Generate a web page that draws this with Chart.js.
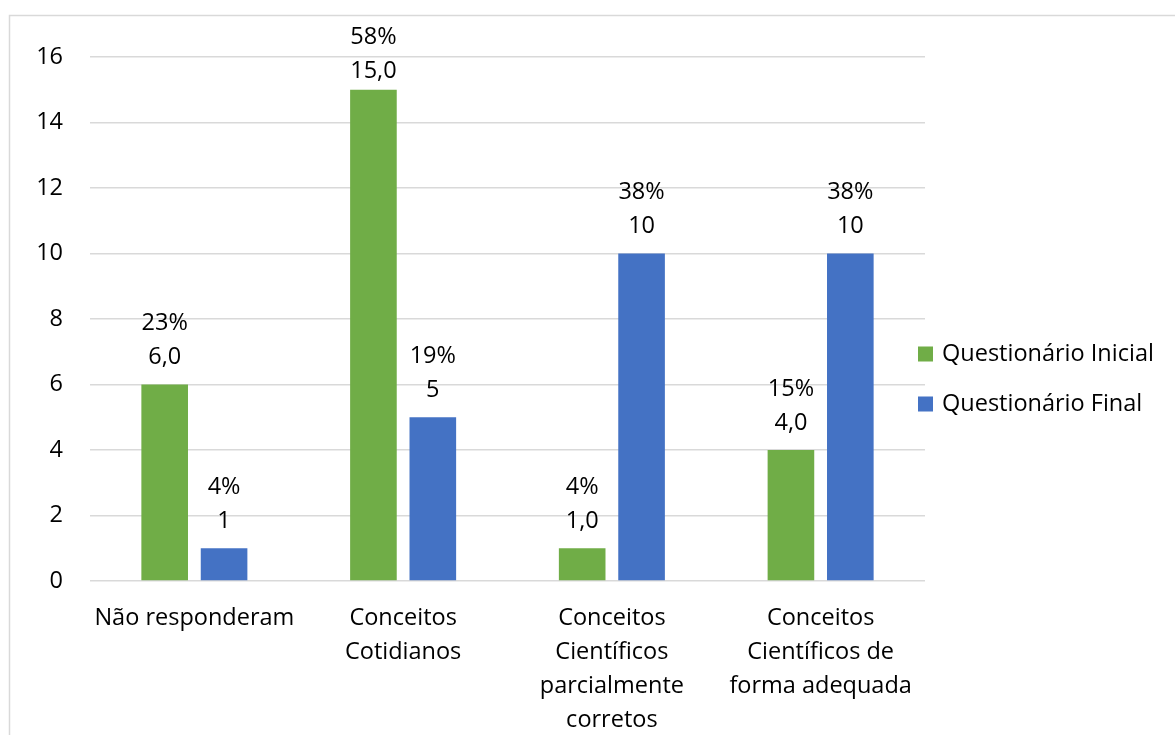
<!DOCTYPE html>
<html>
<head>
<meta charset="utf-8">
<script src="https://cdn.jsdelivr.net/npm/chart.js@4.4.0/dist/chart.umd.min.js"></script>
<style>
    html, body { margin: 0; padding: 0; background: #fff; }
    #wrap { position: relative; width: 1175px; height: 735px; }
</style>
</head>
<body>
<div id="wrap"><canvas id="grafico" width="1175" height="735"></canvas></div>
<script>
// categorias do eixo x (quebradas em linhas)
const categorias = [
    ['Não responderam'],
    ['Conceitos', 'Cotidianos'],
    ['Conceitos', 'Científicos', 'parcialmente', 'corretos'],
    ['Conceitos', 'Científicos de', 'forma adequada']
];
const inicial = [6, 15, 1, 4];
const final = [1, 5, 10, 10];
const inicialPct = ['23%', '58%', '4%', '15%'];
const finalPct = ['4%', '19%', '38%', '38%'];
const ticksY = [0, 2, 4, 6, 8, 10, 12, 14, 16];

const fonte = '"Open Sans", "Noto Sans", sans-serif';
const tam = 23.5;
const corVerde = '#70AD47';
const corAzul = '#4472C4';

// rotulos de cada barra: percentual em cima, valor embaixo
const rotulos = {
    id: 'rotulos',
    afterDatasetsDraw(chart) {
        const ctx = chart.ctx;
        ctx.save();
        ctx.font = tam + 'px ' + fonte;
        ctx.fillStyle = '#000';
        ctx.textAlign = 'center';
        ctx.textBaseline = 'middle';
        chart.data.datasets.forEach((ds, i) => {
            const meta = chart.getDatasetMeta(i);
            meta.data.forEach((bar, j) => {
                let yPct = bar.y - 61;
                if (yPct < 37) yPct = 37; // mantem dentro da area
                const valor = i === 0 ? ds.data[j].toFixed(1).replace('.', ',') : String(ds.data[j]);
                ctx.fillText(ds.pct[j], bar.x, yPct);
                ctx.fillText(valor, bar.x, yPct + 34);
            });
        });
        ctx.restore();
    }
};

// moldura e legenda à direita
const moldura = {
    id: 'moldura',
    beforeDraw(chart) {
        const ctx = chart.ctx;
        ctx.save();
        ctx.strokeStyle = '#d9d9d9';
        ctx.lineWidth = 1.5;
        ctx.beginPath();
        ctx.moveTo(9.5, 735);
        ctx.lineTo(9.5, 15.5);
        ctx.lineTo(1175, 15.5);
        ctx.stroke();
        ctx.restore();
    },
    afterDraw(chart) {
        const ctx = chart.ctx;
        ctx.save();
        ctx.font = tam + 'px ' + fonte;
        ctx.textBaseline = 'middle';
        ctx.textAlign = 'left';
        chart.data.datasets.forEach((ds, i) => {
            const y = 354 + i * 50;
            ctx.fillStyle = ds.backgroundColor;
            ctx.fillRect(918, y - 7.5, 15, 15);
            ctx.fillStyle = '#000';
            ctx.fillText(ds.label, 942, y);
        });
        ctx.restore();
    }
};

new Chart(document.getElementById('grafico'), {
    type: 'bar',
    data: {
        labels: categorias,
        datasets: [
            { label: 'Questionário Inicial', data: inicial, pct: inicialPct, backgroundColor: corVerde },
            { label: 'Questionário Final', data: final, pct: finalPct, backgroundColor: corAzul }
        ]
    },
    options: {
        responsive: false,
        animation: false,
        events: [],
        layout: { padding: { top: 57, right: 250, left: 0, bottom: 0 } },
        datasets: { bar: { categoryPercentage: 0.569, barPercentage: 0.785 } },
        plugins: { legend: { display: false }, tooltip: { enabled: false } },
        scales: {
            x: {
                grid: { display: false },
                border: { display: false },
                ticks: {
                    color: '#000',
                    font: { family: fonte, size: tam, lineHeight: 1.45 },
                    padding: 12,
                    maxRotation: 0,
                    autoSkip: false
                },
                afterFit(s) { s.height = 735 - 581; }
            },
            y: {
                min: 0,
                max: 16,
                afterBuildTicks(s) { s.ticks = ticksY.map(v => ({ value: v })); },
                grid: { color: '#d9d9d9', lineWidth: 1.5, drawTicks: false },
                border: { display: false },
                ticks: {
                    color: '#000',
                    font: { family: fonte, size: tam },
                    padding: 27
                },
                afterFit(s) { s.width = 90; }
            }
        }
    },
    plugins: [moldura, rotulos]
});
</script>
</body>
</html>
